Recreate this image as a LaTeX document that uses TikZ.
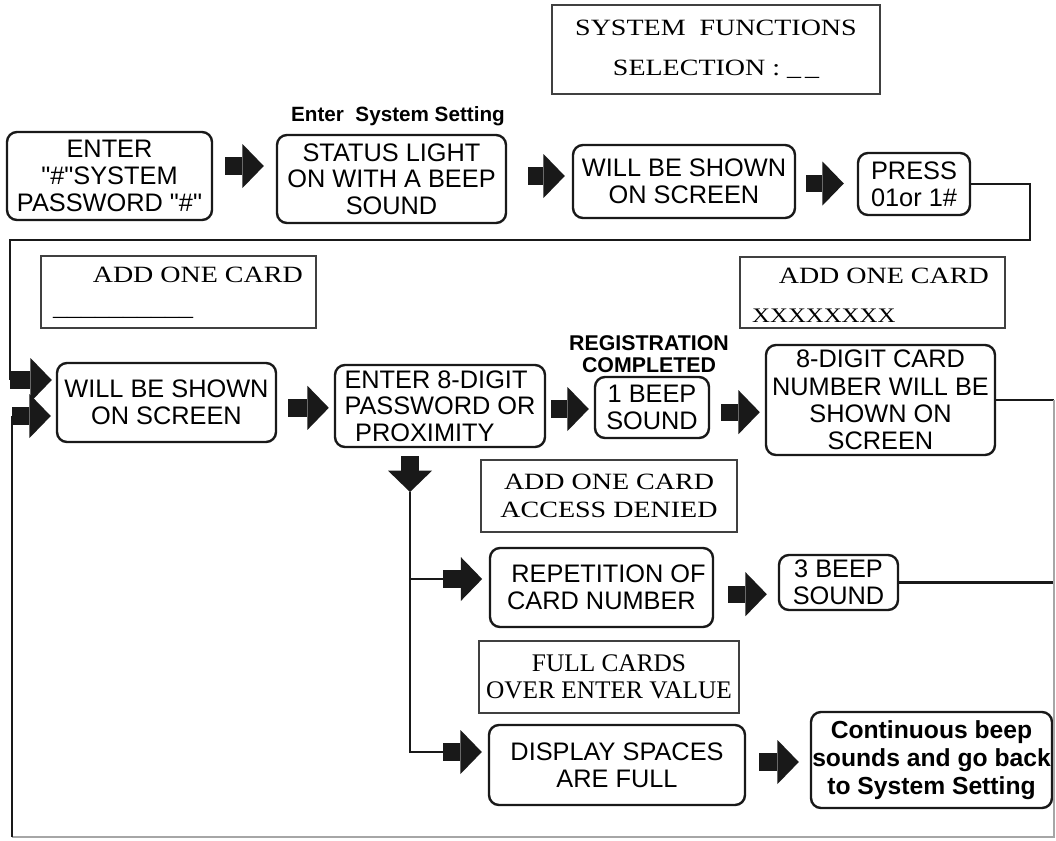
\documentclass[tikz,border=0pt]{standalone}
\usepackage{fontspec}
\setmainfont{Liberation Serif}
\setsansfont{Liberation Sans}[Ligatures=TeXOff]
\newfontfamily\lcdfont{Liberation Serif}[FakeStretch=1.2]
\usetikzlibrary{arrows.meta}

\tikzset{every picture/.style={line width=1.8pt}}
\tikzset{
  stepbox/.style={draw=black!90, rounded corners=7.5pt, inner sep=0pt, align=center,
    font=\sffamily\fontsize{19}{20}\selectfont},
  lcdbox/.style={draw=black!75, line width=1.4pt, inner sep=0pt, align=center},
  lcdtext/.style={inner sep=0pt, align=center, font=\lcdfont\fontsize{17.5}{21}\selectfont},
  labeltxt/.style={inner sep=0pt, align=center, font=\sffamily\bfseries\fontsize{16}{16.5}\selectfont},
  flow/.style={draw=black!90, line width=1.8pt},
  edge/.style={draw=black!35, line width=1.5pt},
  blk/.style={draw=black!90, line width=13pt, -{Triangle[length=16pt,width=33pt,line width=0pt]}}
}

\begin{document}
\begin{tikzpicture}[x=0.75pt,y=0.75pt,yscale=-1,xscale=1]
\useasboundingbox (0,0) rectangle (1056,840);

% display screens
\node[lcdbox, font=\lcdfont\fontsize{17.5}{30}\selectfont, minimum width=246pt, minimum height=66.75pt] (selbox) at (716,49.5) {SYSTEM~ FUNCTIONS\\SELECTION : \_\,\_};
\node[lcdbox, minimum width=206.25pt, minimum height=54pt] (card1) at (178.5,292) {};
\node[lcdtext, anchor=base east] (c1txt) at (304,282) {ADD ONE CARD};
\node[lcdtext, anchor=base west] (c1bar) at (52,315) {\_\_\_\_\_\_\_\_\_\_};
\node[lcdbox, minimum width=198.75pt, minimum height=53.25pt] (card2) at (872.5,292.5) {};
\node[lcdtext, anchor=base east] (c2txt) at (990,283) {ADD ONE CARD};
\node[lcdtext, anchor=base west, font=\lcdfont\fontsize{15.5}{18}\selectfont] (c2num) at (751,322) {XXXXXXXX};
\node[lcdbox, font=\lcdfont\fontsize{17.5}{21}\selectfont, minimum width=192pt, minimum height=54pt] (deny) at (609,496) {ADD ONE CARD\\ACCESS DENIED};
\node[lcdbox, font=\rmfamily\fontsize{19}{20}\selectfont, minimum width=195pt, minimum height=54pt] (fullc) at (609,677) {FULL CARDS\\OVER ENTER VALUE};

% labels
\node[labeltxt, font=\sffamily\bfseries\fontsize{15.5}{18}\selectfont] (settxt) at (398,116) {Enter~ System Setting};
\node[labeltxt] (regtxt) at (649,354) {REGISTRATION\\COMPLETED};

% steps
\node[stepbox, minimum width=153.75pt, minimum height=66pt] (b1) at (109.5,176) {ENTER\\"\#"SYSTEM\\PASSWORD "\#"};
\node[stepbox, minimum width=171.75pt, minimum height=66pt] (b2) at (391.5,179) {STATUS LIGHT\\ON WITH A BEEP\\SOUND};
\node[stepbox, minimum width=166.5pt, minimum height=54.75pt] (b3) at (684,181.5) {WILL BE SHOWN\\ON SCREEN};
\node[stepbox, minimum width=84pt, minimum height=46.5pt] (b4) at (914,184) {PRESS\\01or 1\#};
\node[stepbox, minimum width=164.25pt, minimum height=59.25pt] (b5) at (166.5,402.5) {WILL BE SHOWN\\ON SCREEN};
\node[stepbox, align=left, minimum width=157.5pt, minimum height=61.5pt] (b6) at (440,406) {ENTER 8-DIGIT\\PASSWORD OR\\\hspace*{8pt}PROXIMITY};
\node[stepbox, minimum width=85.5pt, minimum height=45.75pt] (b7) at (652,407.5) {1 BEEP\\SOUND};
\node[stepbox, font=\sffamily\fontsize{19}{20.5}\selectfont, minimum width=171.75pt, minimum height=82.5pt] (b8) at (880.5,400) {8-DIGIT CARD\\NUMBER WILL BE\\SHOWN ON\\SCREEN};
\node[stepbox, minimum width=167.25pt, minimum height=59.25pt] (b9) at (601.5,587.5) {\ \ REPETITION OF\\CARD NUMBER};
\node[stepbox, minimum width=89.25pt, minimum height=41.25pt] (b10) at (838.5,582.5) {3 BEEP\\SOUND};
\node[stepbox, minimum width=192pt, minimum height=60pt] (b11) at (617,765) {DISPLAY SPACES\\ARE FULL};
\node[stepbox, font=\sffamily\bfseries\fontsize{18.5}{21}\selectfont, minimum width=180.75pt, minimum height=72pt] (b12) at (931.5,760) {Continuous beep\\sounds and go back\\to System Setting};

% corner points of the return lines
\coordinate (loopR) at (1030,240);
\coordinate (loopL) at (10,240);
\coordinate (inTop) at (10,380);
\coordinate (inBot) at (12,416);
\coordinate (rtop) at (1054,400);
\coordinate (rbot) at (1054,837);
\coordinate (lbot) at (12,837);
\coordinate (tk) at (410,492);
\coordinate (br1) at (443,579);
\coordinate (br2) at (443,752);

% block arrows
\draw[blk, shorten <=9pt, shorten >=9pt] ([yshift=-7.5pt]b1.east) -- ([yshift=-7.5pt]b1.east -| b2.west);
\draw[blk, shorten <=15.75pt, shorten >=5.25pt] ([yshift=-2.25pt]b2.east) -- ([yshift=-2.25pt]b2.east -| b3.west);
\draw[blk, shorten <=7.5pt, shorten >=9.75pt] ([yshift=1.5pt]b3.east) -- ([yshift=1.5pt]b3.east -| b4.west);
\draw[blk, shorten <=8.25pt, shorten >=3.75pt] ([yshift=4pt]b5.east) -- ([yshift=4pt]b5.east -| b6.west);
\draw[blk, shorten <=3.75pt, shorten >=3.75pt] ([yshift=2.25pt]b6.east) -- ([yshift=2.25pt]b6.east -| b7.west);
\draw[blk, shorten <=8.25pt, shorten >=3.75pt] ([yshift=3.5pt]b7.east) -- ([yshift=3.5pt]b7.east -| b8.west);
\draw[blk, shorten <=10.5pt, shorten >=8.25pt] ([yshift=5pt]b9.east) -- ([yshift=5pt]b9.east -| b10.west);
\draw[blk, shorten <=9.75pt, shorten >=8.25pt] (b11.east |- 0,762) -- (b12.west |- 0,762);
\draw[blk, shorten <=6pt] (tk |- b6.south) -- (tk);
\draw[blk, shorten >=5pt] (br1) -- (br1 -| b9.west);
\draw[blk, shorten >=4.5pt] (br2) -- (br2 -| b11.west);
\draw[blk, shorten >=3pt] (inTop) -- (inTop -| b5.west);
\draw[blk, shorten >=3.75pt] (inBot) -- (inBot -| b5.west);

% return lines
\draw[flow] (b4.east) -- (b4.east -| loopR) -- (loopR) -- (loopL) -- (inTop);
\draw[flow] (tk) |- (br2);
\draw[flow] (tk |- br1) -- (br1);
\draw[flow] (b8.east) -- (rtop);
\draw[flow] (b10.east) -- (b10.east -| rtop);
\draw[edge] (rtop) -- (rbot) -- (lbot);
\draw[flow] (lbot) -- (inBot);
\end{tikzpicture}
\end{document}
